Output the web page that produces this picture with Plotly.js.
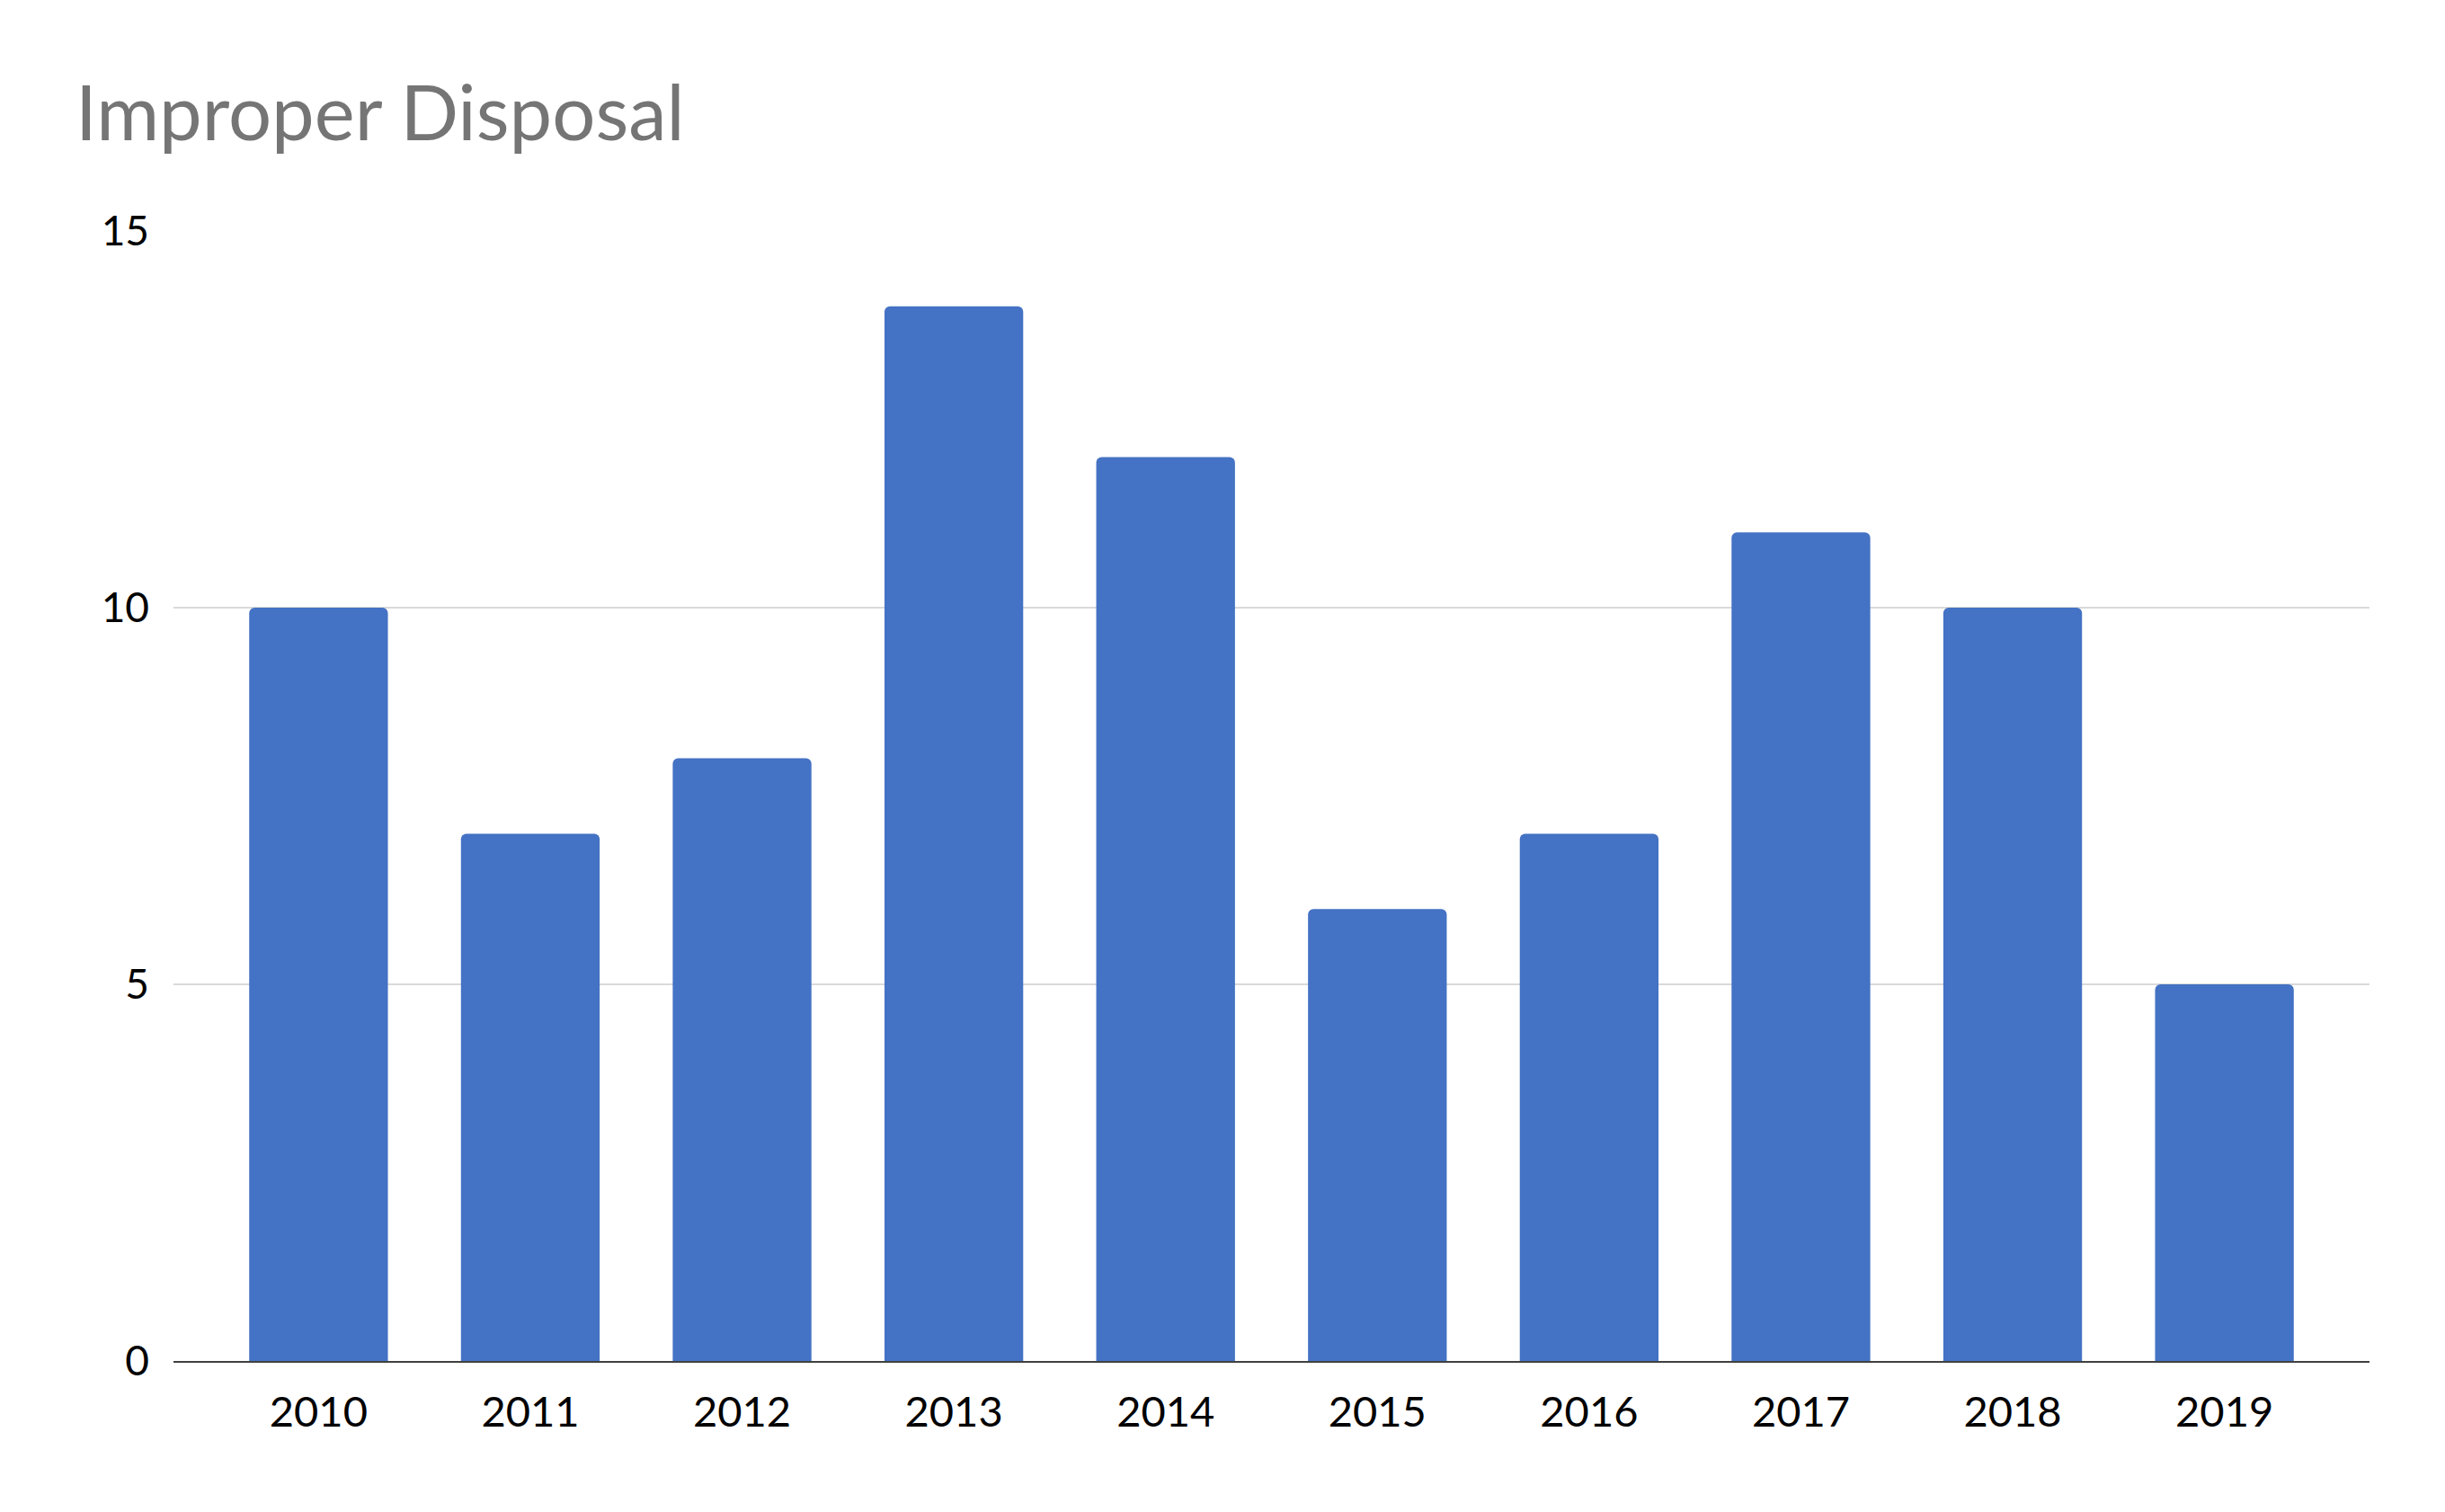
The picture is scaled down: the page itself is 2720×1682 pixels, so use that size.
<!DOCTYPE html>
<html><head><meta charset="utf-8">
<script src="https://cdn.plot.ly/plotly-3.0.1.min.js"></script>
<style>html,body{margin:0;padding:0;background:#fff;}#chart{width:2720px;height:1682px;}</style>
</head><body><div id="chart"></div>
<script>
const years = ['2010','2011','2012','2013','2014','2015','2016','2017','2018','2019'];
const counts = [10, 7, 8, 14, 12, 6, 7, 11, 10, 5];
const yTicks = [0, 5, 10, 15];
const chartTitle = 'Improper Disposal';

const font = 'Lato, "Open Sans", sans-serif';
Plotly.newPlot('chart', [{
  type: 'bar', x: years, y: counts,
  marker: {color: '#4472C4', cornerradius: 6},
  width: 0.655, hoverinfo: 'skip'
}], {
  width: 2720, height: 1682,
  margin: {l: 193, r: 84, t: 257, b: 168},
  paper_bgcolor: '#fff', plot_bgcolor: '#fff',
  showlegend: false,
  title: {text: chartTitle, x: 84/2720, xanchor: 'left', xref: 'container', y: 1 - 126/1682, yanchor: 'middle',
          yref: 'container', font: {family: font, size: 85, color: '#757575'}},
  xaxis: {type: 'category', range: [-0.685, 9.685], showgrid: false,
          showline: true, linecolor: '#404040', linewidth: 2, ticks: '',
          ticklabelstandoff: 15, tickfont: {family: font, size: 47, color: '#000'}},
  yaxis: {range: [0, 15], tickvals: yTicks, showgrid: true, gridcolor: '#d9d9d9', gridwidth: 2,
          zeroline: false, showline: false, ticks: '', ticklabelstandoff: 26,
          tickfont: {family: font, size: 46, color: '#000'}}
}, {staticPlot: true});
</script></body></html>
